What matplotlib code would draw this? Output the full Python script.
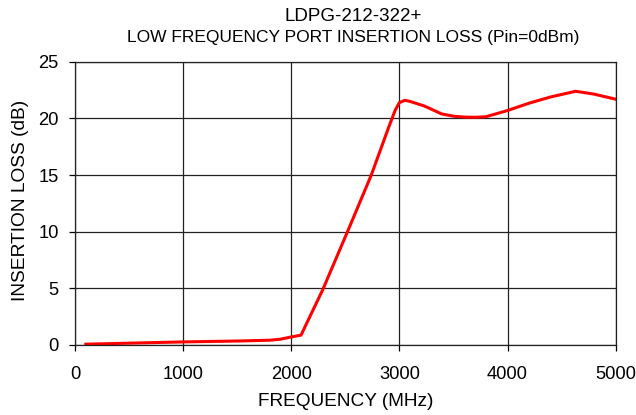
import matplotlib
matplotlib.use('Agg')
import matplotlib.pyplot as plt

plt.rcParams['font.family'] = ['Liberation Sans', 'DejaVu Sans']

# frequency (MHz) vs insertion loss (dB)
freq = [100, 500, 1000, 1500, 1800, 1900, 2000, 2090,
        2290, 2520, 2740, 2900, 2960, 3000, 3050, 3100, 3230, 3300, 3390,
        3500, 3600, 3700, 3800, 4000, 4200, 4290, 4400, 4630, 4800, 5000]
loss = [0.06, 0.15, 0.26, 0.34, 0.41, 0.5, 0.7, 0.86,
        4.85, 10.0, 15.0, 19.2, 20.7, 21.4, 21.6, 21.5, 21.1, 20.8, 20.4,
        20.2, 20.12, 20.1, 20.15, 20.7, 21.35, 21.6, 21.9, 22.4, 22.15, 21.7]

xticks = [0, 1000, 2000, 3000, 4000, 5000]
yticks = [0, 5, 10, 15, 20, 25]

fig = plt.figure(figsize=(6.36, 4.15), dpi=100)
ax = fig.add_axes([0.118, 0.169, 0.85, 0.682])

ax.plot(freq, loss, color='#ff0000', lw=2.2, solid_joinstyle='round')

ax.set_xlim(0, 5000)
ax.set_ylim(0, 25)
ax.set_xticks(xticks)
ax.set_yticks(yticks)
ax.grid(True, color='#222222', lw=0.9)
ax.set_axisbelow(True)
ax.tick_params(labelsize=13.2, direction='out', length=4.3, width=0.9)
ax.tick_params(axis='x', pad=11)
ax.tick_params(axis='y', pad=7.5)
for s in ax.spines.values():
    s.set_color('#222222')
    s.set_linewidth(0.9)

ax.set_xlabel('FREQUENCY (MHz)', fontsize=13.7)
ax.set_ylabel('INSERTION LOSS (dB)', fontsize=13.8)
ax.xaxis.set_label_coords(0.5, -0.171)
ax.yaxis.set_label_coords(-0.085, 0.509)

fig.text(0.555, 0.950, 'LDPG-212-322+', ha='center', va='baseline', fontsize=13.5)
fig.text(0.556, 0.8995, 'LOW FREQUENCY PORT INSERTION LOSS (Pin=0dBm)',
         ha='center', va='baseline', fontsize=12.5)

fig.savefig('out.png', dpi=100)
